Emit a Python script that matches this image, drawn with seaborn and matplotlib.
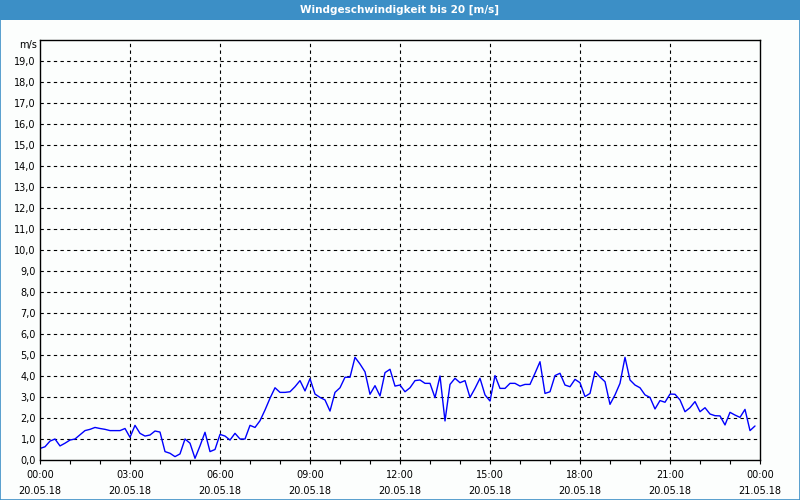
import numpy as np
import pandas as pd
import matplotlib
matplotlib.use("Agg")
import matplotlib.pyplot as plt
import matplotlib.dates as mdates
from matplotlib.patches import Rectangle
import seaborn as sns

# ---------------- data ----------------
title = "Windgeschwindigkeit bis 20 [m/s]"
unit_label = "m/s"
start_time = "2018-05-20 00:00"
wind_ms = [
    0.55, 0.63, 0.90, 1.00, 0.67, 0.80, 0.95, 1.00, 1.20, 1.40, 1.46, 1.55,
    1.50, 1.46, 1.40, 1.40, 1.40, 1.50, 1.08, 1.65, 1.27, 1.14, 1.19, 1.38,
    1.33, 0.40, 0.32, 0.16, 0.29, 1.00, 0.80, 0.08, 0.67, 1.32, 0.40, 0.50,
    1.22, 1.14, 0.95, 1.27, 1.00, 1.00, 1.65, 1.55, 1.87, 2.38, 2.94, 3.44,
    3.22, 3.22, 3.25, 3.49, 3.78, 3.29, 3.87, 3.14, 2.98, 2.86, 2.33, 3.22,
    3.44, 3.94, 3.94, 4.89, 4.57, 4.20, 3.13, 3.54, 3.05, 4.16, 4.32, 3.52,
    3.57, 3.25, 3.44, 3.78, 3.81, 3.65, 3.65, 2.97, 4.00, 1.86, 3.60, 3.89,
    3.68, 3.78, 2.98, 3.41, 3.89, 3.10, 2.81, 4.02, 3.41, 3.41, 3.65, 3.65,
    3.52, 3.60, 3.60, 4.13, 4.68, 3.17, 3.25, 4.02, 4.13, 3.57, 3.49, 3.84,
    3.68, 3.02, 3.17, 4.21, 3.95, 3.73, 2.65, 3.10, 3.65, 4.89, 3.81, 3.57,
    3.44, 3.10, 2.98, 2.43, 2.83, 2.75, 3.14, 3.13, 2.86, 2.30, 2.49, 2.78,
    2.30, 2.49, 2.19, 2.11, 2.10, 1.67, 2.27, 2.14, 2.03, 2.41, 1.40, 1.62,
]
xtick_times = ["00:00", "03:00", "06:00", "09:00", "12:00", "15:00", "18:00", "21:00", "00:00"]
xtick_dates = ["20.05.18"] * 8 + ["21.05.18"]
ytick_values = list(range(0, 20))

# ---------------- style ----------------
bg = "#fcfefd"
bar_color = "#3c8fc6"
line_color = "#0000ff"

sns.set_theme(style="white")
plt.rcParams["font.family"] = ["DejaVu Sans"]

fig = plt.figure(figsize=(8, 5), dpi=100, facecolor=bg)
ax = fig.add_axes([0.05, 0.08, 0.90, 0.84])
ax.set_facecolor(bg)

times = pd.date_range(start_time, periods=len(wind_ms), freq="10min")
df = pd.DataFrame({"time": times, "wind": wind_ms})
sns.lineplot(data=df, x="time", y="wind", ax=ax, color=line_color, linewidth=1.0)

# axes limits
t0 = pd.Timestamp(start_time)
major_ticks = pd.date_range(t0, periods=len(xtick_times), freq="3h")
minor_ticks = pd.date_range(t0, periods=25, freq="1h")
ax.set_xlim(mdates.date2num(major_ticks[0]), mdates.date2num(major_ticks[-1]))
ax.set_ylim(0, 20)

ax.set_xticks(mdates.date2num(major_ticks))
ax.set_xticks(mdates.date2num(minor_ticks), minor=True)
ax.set_xticklabels([f"{t}\n{d}" for t, d in zip(xtick_times, xtick_dates)],
                   fontsize=7, linespacing=1.75, color="black")
ax.set_yticks(ytick_values)
ax.set_yticklabels([f"{v},0" for v in ytick_values], fontsize=7, color="black")

ax.tick_params(axis="x", which="both", direction="out", length=3, width=0.8,
               bottom=True, color="black", pad=4)
ax.tick_params(axis="y", which="both", length=0, pad=3)

ax.set_xlabel("")
ax.set_ylabel("")

# grid
for t in major_ticks[1:-1]:
    ax.axvline(mdates.date2num(t), color="black", linewidth=0.8,
               linestyle=(0, (3, 3)), zorder=1)
for v in ytick_values[1:]:
    ax.axhline(v, color="black", linewidth=0.8, linestyle=(0, (3, 3)), zorder=1)

for s in ax.spines.values():
    s.set_visible(True)
    s.set_color("black")
    s.set_linewidth(1.0)

ax.text(-0.004, 0.988, unit_label, transform=ax.transAxes, ha="right",
        va="center", fontsize=7, color="black")

# title bar and frame
fig.patches.append(Rectangle((0, 0.96), 1, 0.04, transform=fig.transFigure,
                             facecolor=bar_color, edgecolor="none", zorder=0))
fig.text(0.5, 0.98, title, ha="center", va="center", color="white",
         fontsize=7.5, fontweight="bold")
fig.patches.append(Rectangle((0.0006, 0.001), 0.9988, 0.998, transform=fig.transFigure,
                             facecolor="none", edgecolor=bar_color, linewidth=1.2, zorder=5))

fig.savefig("out.png", dpi=100, facecolor=bg)
